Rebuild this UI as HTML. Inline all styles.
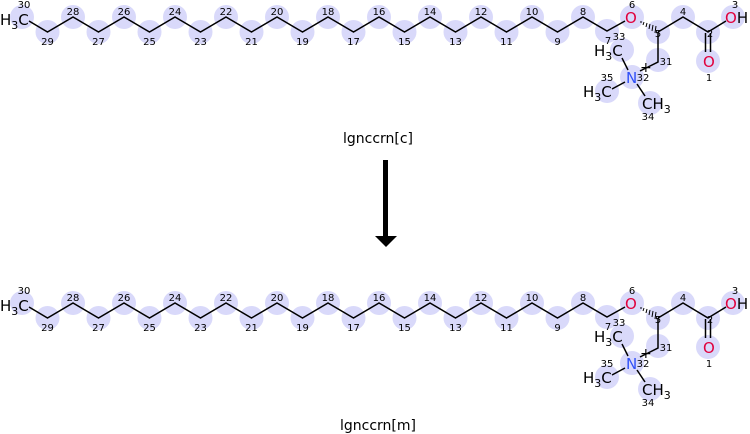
<!DOCTYPE html>
<html><head><meta charset="utf-8"><style>
html,body{margin:0;padding:0;background:#fff;}
svg{display:block;font-family:"DejaVu Sans","Liberation Sans",sans-serif;}
.c{fill:#d9d9fa;}
.b{stroke:#000;stroke-width:1.5;fill:none;}
.n{font-size:10px;fill:#000;text-anchor:middle;}
.a{font-size:15px;}
</style></head><body>
<svg width="750" height="434" viewBox="0 0 750 434" xmlns="http://www.w3.org/2000/svg">
<g id="m1">
<g class="c">
<circle cx="22" cy="17" r="12"/><circle cx="47.5" cy="32" r="12"/><circle cx="73" cy="17" r="12"/><circle cx="98.5" cy="32" r="12"/><circle cx="124" cy="17" r="12"/><circle cx="149.5" cy="32" r="12"/><circle cx="175" cy="17" r="12"/><circle cx="200.5" cy="32" r="12"/><circle cx="226" cy="17" r="12"/><circle cx="251.5" cy="32" r="12"/><circle cx="277" cy="17" r="12"/><circle cx="302.5" cy="32" r="12"/><circle cx="328" cy="17" r="12"/><circle cx="353.5" cy="32" r="12"/><circle cx="379" cy="17" r="12"/><circle cx="404.5" cy="32" r="12"/><circle cx="430" cy="17" r="12"/><circle cx="455.5" cy="32" r="12"/><circle cx="481" cy="17" r="12"/><circle cx="506.5" cy="32" r="12"/><circle cx="532" cy="17" r="12"/><circle cx="557.5" cy="32" r="12"/><circle cx="583" cy="17" r="12"/><circle cx="607" cy="31" r="12"/><circle cx="632" cy="17" r="12"/><circle cx="658" cy="32" r="12"/><circle cx="683" cy="17" r="12"/><circle cx="708" cy="32" r="12"/><circle cx="733" cy="17" r="12"/><circle cx="708" cy="61" r="12"/><circle cx="658" cy="60" r="12"/><circle cx="632" cy="77" r="12"/><circle cx="622" cy="50" r="12"/><circle cx="607" cy="91" r="12"/><circle cx="650" cy="103" r="12"/>
</g>
<polyline class="b" points="29,21 47.5,32 73,17 98.5,32 124,17 149.5,32 175,17 200.5,32 226,17 251.5,32 277,17 302.5,32 328,17 353.5,32 379,17 404.5,32 430,17 455.5,32 481,17 506.5,32 532,17 557.5,32 583,17 607,31 625,21"/>
<g stroke="#000" stroke-width="1">
<line x1="641" y1="21" x2="641" y2="23"/><line x1="644" y1="22" x2="643" y2="25"/><line x1="647" y1="23" x2="646" y2="27"/><line x1="650" y1="24" x2="649" y2="29"/><line x1="653" y1="25" x2="652" y2="31"/><line x1="656" y1="26" x2="655" y2="33"/>
</g>
<polyline class="b" points="658,32 683,17 708,32 726,21"/>
<line class="b" x1="705.5" y1="33" x2="705.5" y2="52"/><line class="b" x1="710.5" y1="33" x2="710.5" y2="52"/>
<polyline class="b" points="658,32 658,62 640,71"/>
<line class="b" x1="628" y1="70" x2="622" y2="58"/>
<line class="b" x1="625" y1="82" x2="612" y2="89"/>
<line class="b" x1="637" y1="84" x2="645" y2="96"/>
<text x="0" y="25" class="a">H<tspan font-size="11" dy="4">3</tspan><tspan dy="-4">C</tspan></text>
<text x="625" y="23" class="a" fill="#e0003c">O</text>
<text x="725" y="23" class="a" fill="#e0003c">O<tspan fill="#000">H</tspan></text>
<text x="703" y="67" class="a" fill="#e0003c">O</text>
<text x="626" y="83" class="a" fill="#3050f8">N</text>
<text x="640" y="72" font-size="14">+</text>
<text x="594" y="56" class="a">H<tspan font-size="11" dy="4">3</tspan><tspan dy="-4">C</tspan></text>
<text x="583" y="97" class="a">H<tspan font-size="11" dy="4">3</tspan><tspan dy="-4">C</tspan></text>
<text x="642" y="109" class="a">CH<tspan font-size="11" dy="4">3</tspan></text>
<g class="n">
<text x="24" y="8">30</text><text x="47.5" y="45">29</text><text x="73" y="15">28</text><text x="98.5" y="45">27</text><text x="124" y="15">26</text><text x="149.5" y="45">25</text><text x="175" y="15">24</text><text x="200.5" y="45">23</text><text x="226" y="15">22</text><text x="251.5" y="45">21</text><text x="277" y="15">20</text><text x="302.5" y="45">19</text><text x="328" y="15">18</text><text x="353.5" y="45">17</text><text x="379" y="15">16</text><text x="404.5" y="45">15</text><text x="430" y="15">14</text><text x="455.5" y="45">13</text><text x="481" y="15">12</text><text x="506.5" y="45">11</text><text x="532" y="15">10</text><text x="557.5" y="45">9</text><text x="583" y="15">8</text><text x="608" y="44">7</text><text x="619" y="40">33</text><text x="632" y="8">6</text><text x="658" y="37">5</text><text x="683" y="15">4</text><text x="710" y="37">2</text><text x="735" y="8">3</text><text x="709" y="81">1</text><text x="666" y="65">31</text><text x="643" y="81">32</text><text x="607" y="81">35</text><text x="648" y="120">34</text>
</g>
</g>
<use href="#m1" transform="translate(0,286)"/>
<text x="378" y="143" font-size="14" text-anchor="middle">lgnccrn[c]</text>
<text x="378" y="430" font-size="14" text-anchor="middle">lgnccrn[m]</text>
<rect x="383" y="160" width="5" height="77" fill="#000"/>
<polygon points="375,236 397,236 386,247" fill="#000"/>
</svg>
</body></html>
